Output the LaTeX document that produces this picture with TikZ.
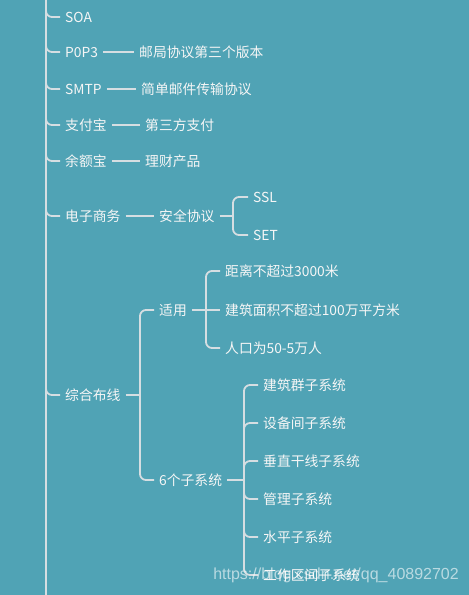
\documentclass[tikz,border=0pt]{standalone}
\usepackage{fontspec}
\setmainfont{Noto Sans CJK SC}
\newfontfamily\wmfont{Liberation Sans}
\usetikzlibrary{calc}
\definecolor{bgteal}{RGB}{80,163,181}
\definecolor{linegray}{RGB}{214,222,226}
\definecolor{txtwhite}{RGB}{246,246,246}
\begin{document}
\begin{tikzpicture}[x=1pt,y=-1pt]
                \tikzstyle{item}=[anchor=west,inner xsep=5pt,inner ysep=0pt,text height=11pt,text depth=1pt,text=txtwhite,font=\fontsize{13.8}{16}\selectfont]
                \tikzstyle{conn}=[draw=linegray,line width=1.8pt]
                \tikzstyle{branch}=[conn,rounded corners=6pt]
                
                \fill[bgteal] (0,0) rectangle (469,595);
                \useasboundingbox (0,0) rectangle (469,595);
                
                \coordinate (top) at (46,0);
                \coordinate (bot) at (46,595);
                \draw[conn] (top) -- (bot);
                
                \node[item] (soa) at (60,17) {SOA};
                \node[item] (pop) at (60,52) {P0P3};
                \node[item] (popd) at (134,52) {邮局协议第三个版本};
                \node[item] (smtp) at (60,89) {SMTP};
                \node[item] (smtpd) at (136,89) {简单邮件传输协议};
                \node[item] (zfb) at (60,125) {支付宝};
                \node[item] (zfbd) at (140,125) {第三方支付};
                \node[item] (yeb) at (60,161) {余额宝};
                \node[item] (yebd) at (140,161) {理财产品};
                \node[item] (dzsw) at (60,216) {电子商务};
                \node[item] (aq) at (154,216) {安全协议};
                \node[item] (ssl) at (248,197) {SSL};
                \node[item] (set) at (248,235) {SET};
                \node[item] (zhbx) at (60,395) {综合布线};
                \node[item] (sy) at (154,310) {适用};
                \node[item] (jl) at (220,271) {距离不超过3000米};
                \node[item] (mj) at (220,310) {建筑面积不超过100万平方米};
                \node[item] (rk) at (220,348) {人口为50-5万人};
                \node[item] (zxt) at (154,480) {6个子系统};
                
                % branches off the trunk
                \foreach \n in {soa,pop,smtp,zfb,yeb,dzsw,zhbx}
                    \draw[branch] ([yshift=12pt]\n.west -| top) |- (\n.west);
                
                \draw[conn] (pop) -- (popd);
                \draw[conn] (smtp) -- (smtpd);
                \draw[conn] (zfb) -- (zfbd);
                \draw[conn] (yeb) -- (yebd);
                \draw[conn] (dzsw) -- (aq);
                
                \coordinate (aqj) at (233,216);
                \draw[conn] (aq) -- (aqj);
                \draw[branch] (aqj) |- (ssl);
                \draw[branch] (aqj) |- (set);
                
                \coordinate (zj) at (140,395);
                \draw[conn] (zhbx) -- (zj);
                \draw[branch] (zj) |- (sy);
                \draw[branch] (zj) |- (zxt);
                
                \coordinate (syj) at (206,310);
                \draw[conn] (sy) -- (syj);
                \draw[branch] (syj) |- (jl);
                \draw[conn] (syj) -- (mj);
                \draw[branch] (syj) |- (rk);
                
                \coordinate (zxtj) at (244,480);
                \draw[conn] (zxt) -- (zxtj);
                \foreach \name [count=\i from 0] in {建筑群子系统,设备间子系统,垂直干线子系统,管理子系统,水平子系统,工作区间子系统}{
                    \node[item] (s\i) at (258,385+38*\i) {\name};
                    \draw[branch] (zxtj) |- (s\i);
                }
                
                \node[anchor=east,inner sep=0pt,text=white,opacity=0.6,font=\wmfont\fontsize{16}{18}\selectfont] (wm) at (459,575) {https://blog.csdn.net/qq\_40892702};
\end{tikzpicture}
\end{document}
